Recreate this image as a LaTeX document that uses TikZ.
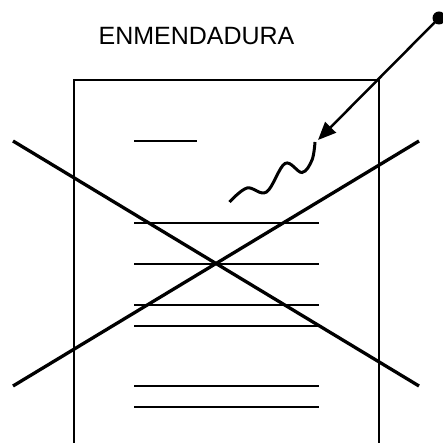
\documentclass[tikz,border=0pt]{standalone}
\usepackage{fontspec}
\setmainfont{Liberation Sans}
\usetikzlibrary{arrows.meta}
\begin{document}
\begin{tikzpicture}[x=1pt,y=-1pt,
  thin line/.style={line width=1.6pt},
  thick line/.style={line width=3.3pt},
  textline/.style={line width=1.6pt}]
\useasboundingbox (0,0) rectangle (443,443);
% title
\node[anchor=base,inner sep=0pt,font=\fontsize{25}{30}\selectfont] (title) at (196.5,45) {ENMENDADURA};
% page
\draw[thin line] (74,444) -- (74,80) -- (379,80) -- (379,444);
% text lines
\draw[textline] (134,141) -- (197,141);
\foreach \y in {222.7,264,305,325.7,386,406.7}
  \draw[textline] (134,\y) -- (319,\y);
% cross
\draw[thick line] (13,141) -- (419,386);
\draw[thick line] (13,386) -- (419,141);
% squiggle (signature)
\draw[line width=3pt] plot[smooth,tension=0.6] coordinates
  {(229.5,202) (247,188) (266.5,192) (285,163.5) (302,172.5) (312,160) (315,142)};
% arrow with dot
\coordinate (dot) at (439,18);
\coordinate (tip) at (318,140);
\fill (dot) circle (6.5);
\draw[line width=2.5pt,-{Triangle[length=18pt,width=15pt]}] (dot) -- (tip);
\end{tikzpicture}
\end{document}
